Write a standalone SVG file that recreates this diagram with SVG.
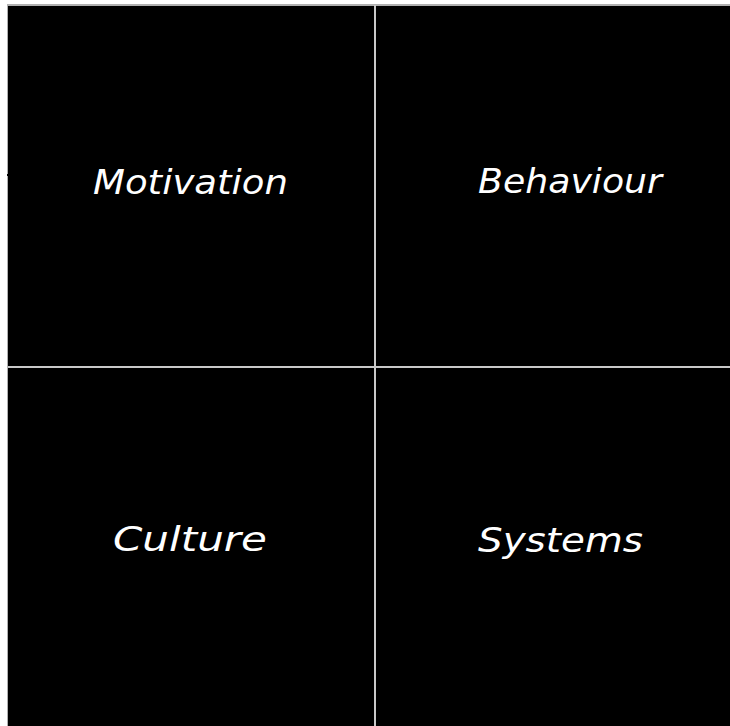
<svg xmlns="http://www.w3.org/2000/svg" width="730" height="726" viewBox="0 0 730 726">
<style>
.cell{fill:#000}
.lbl{fill:#fff;font-family:"DejaVu Sans","Liberation Sans",sans-serif;font-style:italic;font-size:34px}
.div{stroke:#c8c8c8;stroke-width:2}
</style>
<rect width="730" height="726" fill="#fff"/>
<rect x="7" y="4" width="723" height="722" fill="#b0b0b0"/>
<g id="motivation"><rect class="cell" x="8" y="6" width="366" height="360"/><text class="lbl" x="93" y="194" textLength="195" lengthAdjust="spacingAndGlyphs">Motivation</text></g>
<g id="behaviour"><rect class="cell" x="376" y="6" width="354" height="360"/><text class="lbl" x="478" y="193" textLength="184" lengthAdjust="spacingAndGlyphs">Behaviour</text></g>
<g id="culture"><rect class="cell" x="8" y="368" width="366" height="358"/><text class="lbl" x="113" y="551" textLength="154" lengthAdjust="spacingAndGlyphs">Culture</text></g>
<g id="systems"><rect class="cell" x="376" y="368" width="354" height="358"/><text class="lbl" x="478" y="552" textLength="165" lengthAdjust="spacingAndGlyphs">Systems</text></g>
<g id="connectors">
<line class="div" x1="375" y1="5" x2="375" y2="726"/>
<line class="div" x1="8" y1="367" x2="730" y2="367"/>
</g>
<rect x="7" y="174" width="2" height="2" fill="#000"/>
</svg>
